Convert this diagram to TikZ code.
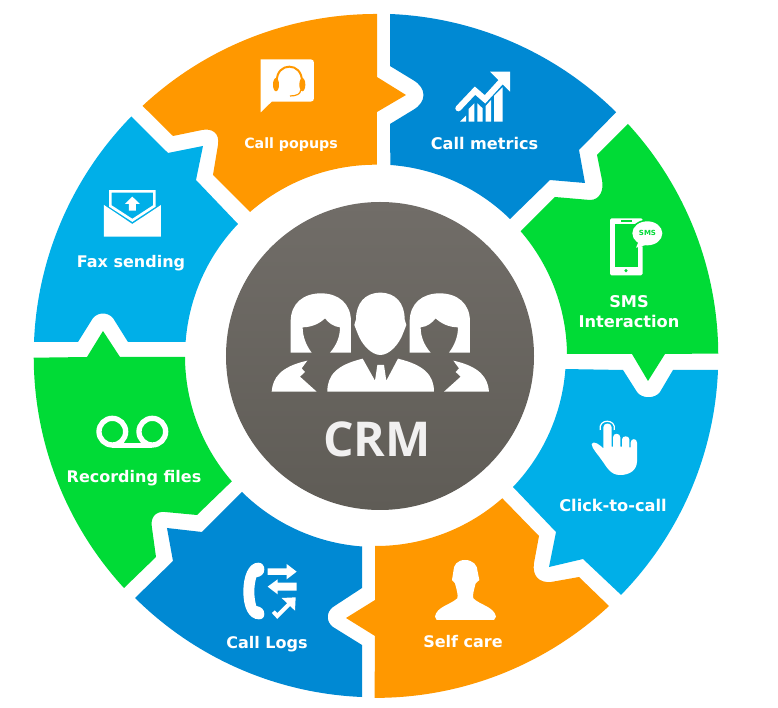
\documentclass[tikz,border=0pt]{standalone}
\usepackage{fontspec}
\setmainfont{DejaVu Sans}
\newfontfamily\crmfont{Open Sans}
\usetikzlibrary{calc}

\definecolor{segorange}{HTML}{FF9800}
\definecolor{segblue}{HTML}{0089D3}
\definecolor{segcyan}{HTML}{00AFE8}
\definecolor{seggreen}{HTML}{00DB36}
\definecolor{hubtop}{HTML}{716D68}
\definecolor{hubbottom}{HTML}{5F5C56}

\tikzset{
    px/.style 2 args={shift={(#1-376,356-#2)},x=0.33333pt,y=-0.33333pt},
    iconpart/.style={fill=white,draw=none},
    iconline/.style={draw=white,fill=none},
    seglabel/.style={text=white,align=center,inner sep=0pt,font=\bfseries\fontsize{#1}{20}\selectfont},
    womanpic/.pic={
        \fill[iconpart] (-269,458) -- (-269,365) .. controls (-269,310) and (-231,280) .. (-178,280)
            .. controls (-126,280) and (-88,310) .. (-88,365) -- (-88,458) -- (-151,458)
            .. controls (-131,435) and (-121,410) .. (-121,382) .. controls (-141,380) and (-156,368) .. (-166,355)
            .. controls (-181,370) and (-206,382) .. (-233,382) .. controls (-233,410) and (-223,435) .. (-206,458) -- cycle;
        \fill[iconpart] (-326,575) .. controls (-323,535) and (-301,500) .. (-219,482) -- (-236,505) -- (-226,516)
            -- (-241,530) -- (-191,575) -- cycle;
    }
}

\begin{document}
\begin{tikzpicture}[x=1pt,y=1pt]

    \def\outerR{342}
    \def\innerR{191}

    \useasboundingbox (-376,-352) rectangle (402,356);

    % Segmentos
    \fill[segorange] (1,342) arc[start angle=89.8,end angle=133,radius=\outerR pt]
        -- (-203,220) -- (-174,226) .. controls (-164,228) and (-156,223) .. (-158,211)
        -- (-163,181) -- (-126,144) arc[start angle=131.2,end angle=89.7,radius=\innerR pt]
        -- (1,244) -- (30,261) -- (1,279) -- cycle;
    \fill[segblue] (14,342) arc[start angle=87.66,end angle=45.4,radius=\outerR pt]
        -- (203,206) -- (209,173) -- (174,176)
        -- (134,137) arc[start angle=45.6,end angle=85.8,radius=\innerR pt]
        -- (14,232) -- (37,246) .. controls (51,254) and (51,268) .. (37,276) -- (14,290) -- cycle;
    \fill[seggreen] (252,232) arc[start angle=42.6,end angle=0.33,radius=\outerR pt]
        -- (289,2) -- (272,-25) -- (256,2)
        -- (191,2) arc[start angle=0.6,end angle=40.8,radius=\innerR pt]
        -- (179,159) -- (214,156) .. controls (224,156) and (228,166) .. (226,176) -- (221,201) -- cycle;
    \fill[segcyan] (342,-14) arc[start angle=-2.34,end angle=-44.3,radius=\outerR pt]
        -- (207,-203) -- (173,-211) -- (180,-176)
        -- (137,-131) arc[start angle=-43.7,end angle=-4.2,radius=\innerR pt]
        -- (247,-14) -- (261,-36) .. controls (266,-43) and (279,-43) .. (284,-36) -- (297,-14) -- cycle;
    \fill[segorange] (233,-250) arc[start angle=-47,end angle=-90.2,radius=\outerR pt]
        -- (-1,-280) -- (-30,-262) -- (-1,-244)
        -- (-1,-190) arc[start angle=-90.3,end angle=-48.6,radius=\innerR pt]
        -- (163,-180) -- (158,-207) .. controls (156,-220) and (163,-227) .. (175,-226) -- (203,-221) -- cycle;
    \fill[segblue] (-14,-341) arc[start angle=267.65,end angle=225.2,radius=\outerR pt]
        -- (-203,-205) -- (-209,-172) -- (-174,-176)
        -- (-134,-136) arc[start angle=225.4,end angle=265.8,radius=\innerR pt]
        -- (-14,-232) -- (-43,-251) .. controls (-50,-256) and (-50,-266) .. (-43,-271) -- (-14,-289) -- cycle;
    \fill[seggreen] (-252,-232) arc[start angle=222.6,end angle=180.2,radius=\outerR pt]
        -- (-289,-1) -- (-273,25) -- (-256,-1)
        -- (-191,-1) arc[start angle=180.3,end angle=221,radius=\innerR pt]
        -- (-179,-159) -- (-211,-156) .. controls (-221,-155) and (-226,-162) .. (-224,-172) -- (-220,-201) -- cycle;
    \fill[segcyan] (-342,14) arc[start angle=177.7,end angle=135.6,radius=\outerR pt]
        -- (-208,203) -- (-173,210) -- (-180,176)
        -- (-138,132) arc[start angle=136.3,end angle=175.8,radius=\innerR pt]
        -- (-248,14) -- (-263,38) .. controls (-268,44) and (-278,44) .. (-283,38) -- (-298,14) -- cycle;

    % Centro
    \shade[top color=hubtop,bottom color=hubbottom] (4,0) circle (154pt);
    \begin{scope}[px={220}{200}]
        \pic at (481,0) {womanpic};
        \pic[xscale=-1] at (481,0) {womanpic};
        \fill[iconpart] (481,278) .. controls (435,278) and (408,310) .. (408,358) -- (403,375) -- (412,398)
            .. controls (425,435) and (455,465) .. (481,465) .. controls (507,465) and (537,435) .. (550,398)
            -- (559,375) -- (554,358) .. controls (554,310) and (527,278) .. (481,278) -- cycle;
        \fill[iconpart] (322,575) .. controls (322,525) and (350,495) .. (428,476) -- (465,542) -- (472,495)
            -- (492,495) -- (499,542) -- (534,476) .. controls (612,495) and (642,525) .. (642,575) -- cycle;
    \end{scope}
    \node[text=white!90!hubtop,inner sep=0pt,font=\crmfont\bfseries\fontsize{48}{50}\selectfont] (crmlabel) at (1,-83.5) {CRM};

    % Call popups
    \begin{scope}[px={130}{10}]
        \fill[iconpart] (392,148) -- (542,148) .. controls (548,148) and (552,152) .. (552,158) -- (552,265)
            .. controls (552,271) and (548,275) .. (542,275) -- (425,275) -- (392,307) -- cycle;
        \draw[segorange,line width=2pt] (440,215) .. controls (440,185) and (458,170) .. (478,170)
            .. controls (498,170) and (516,185) .. (516,215);
        \fill[segorange] (438,224) ellipse [x radius=9,y radius=20];
        \fill[segorange] (517,224) ellipse [x radius=9,y radius=20];
        \draw[segorange,line width=1.2pt] (512,240) .. controls (512,252) and (500,258) .. (480,258);
    \end{scope}
    \node[seglabel=14.2] (popuplabel) at (-85,211.5) {Call popups};

    % Call metrics
    \begin{scope}[px={370}{10}]
        \draw[iconline,line width=6pt,line cap=round] (265,295) -- (315,242) -- (345,268) -- (395,213);
        \fill[iconpart] (360,185) -- (420,185) -- (420,245) -- cycle;
        \fill[iconpart] (270,335) -- (288,317) -- (288,335) -- cycle;
        \fill[iconpart] (296,335) -- (296,297) -- (313,280) -- (313,335) -- cycle;
        \fill[iconpart] (322,335) -- (322,280) -- (338,295) -- (338,335) -- cycle;
        \fill[iconpart] (347,335) -- (347,288) -- (363,270) -- (363,335) -- cycle;
        \fill[iconpart] (372,335) -- (372,258) -- (398,232) -- (398,335) -- cycle;
    \end{scope}
    \node[seglabel=16.1] (metricslabel) at (108.5,212) {Call metrics};

    % SMS Interaction
    \begin{scope}[px={370}{10}]
        \fill[iconpart,rounded corners=1.5pt] (720,625) rectangle (818,796);
        \fill[seggreen] (735,642) rectangle (805,770);
        \fill[seggreen] (752,631) rectangle (785,636);
        \fill[seggreen] (768,782) circle (5);
        \fill[seggreen] (832,670) ellipse [x radius=50,y radius=41];
        \fill[iconpart] (832,670) ellipse [x radius=45,y radius=36];
        \fill[iconpart] (798,713) -- (808,690) -- (835,703) -- cycle;
    \end{scope}
    \node[text=seggreen,inner sep=0pt,font=\bfseries\fontsize{7}{8}\selectfont] (smsbadge) at (271.5,123) {SMS};
    \node[seglabel=16.2] (smslabel) at (253,44) {SMS\\Interaction};

    % Click-to-call
    \begin{scope}[px={370}{350}]
        \draw[iconline,line width=1.2pt] (691,240) .. controls (683,205) and (740,205) .. (733,240);
        \fill[iconpart] (665,282) .. controls (670,270) and (690,285) .. (700,295) -- (700,232)
            .. controls (700,217) and (725,217) .. (725,232) -- (725,290) -- (729,290) -- (729,262)
            .. controls (729,248) and (751,248) .. (751,262) -- (751,290) -- (756,290) -- (756,268)
            .. controls (756,256) and (778,256) .. (778,268) -- (778,292) -- (782,292) -- (782,278)
            .. controls (782,264) and (801,264) .. (801,278) -- (801,335)
            .. controls (800,360) and (780,375) .. (750,375) .. controls (720,375) and (710,350) .. (695,330)
            .. controls (685,315) and (665,295) .. (665,282) -- cycle;
    \end{scope}
    \node[seglabel=16.2] (clicklabel) at (237,-149) {Click-to-call};

    % Self care
    \begin{scope}[px={370}{350}]
        \fill[iconpart] (285,630) .. controls (262,630) and (250,645) .. (250,665) -- (246,690) -- (255,700)
            .. controls (260,720) and (265,735) .. (262,745) .. controls (240,765) and (200,770) .. (195,800)
            -- (200,810) -- (372,810) -- (378,800) .. controls (372,770) and (330,765) .. (310,745)
            .. controls (307,735) and (312,720) .. (317,700) -- (328,690) -- (323,665)
            .. controls (323,645) and (308,630) .. (285,630) -- cycle;
    \end{scope}
    \node[seglabel=16] (selflabel) at (87,-286) {Self care};

    % Call Logs
    \begin{scope}[px={25}{350}]
        \fill[iconpart] (700,638) .. controls (712,638) and (718,648) .. (718,658) .. controls (718,672) and (708,680) .. (694,682)
            .. controls (686,710) and (686,740) .. (694,768) .. controls (708,770) and (718,778) .. (718,792)
            .. controls (718,802) and (712,808) .. (702,808) .. controls (670,808) and (655,770) .. (655,725)
            .. controls (655,680) and (670,638) .. (700,638) -- cycle;
        \fill[iconpart] (728,655) -- (785,655) -- (785,642) -- (815,665) -- (785,688) -- (785,675) -- (728,675) -- cycle;
        \fill[iconpart] (815,698) -- (758,698) -- (758,688) -- (728,710) -- (758,733) -- (758,722) -- (815,722) -- cycle;
        \draw[iconline,line width=4pt] (745,785) -- (757,798) -- (795,760);
        \fill[iconpart] (770,744) -- (812,742) -- (810,782) -- cycle;
    \end{scope}
    \node[seglabel=16] (logslabel) at (-109,-288) {Call Logs};

    % Recording files
    \begin{scope}[px={25}{350}]
        \draw[iconline,line width=5.3pt] (262,245) circle (40);
        \draw[iconline,line width=5.3pt] (382,245) circle (40);
        \draw[iconline,line width=5.3pt] (262,287) -- (382,287);
    \end{scope}
    \node[seglabel=16] (recordlabel) at (-242,-122.5) {Recording files};

    % Fax sending
    \begin{scope}[px={25}{110}]
        \fill[iconpart] (237,285) -- (322,342) -- (408,285) -- (408,380) -- (237,380) -- cycle;
        \draw[iconline,line width=2.6pt] (256,244) -- (388,244) -- (388,288) -- (322,331) -- (256,288) -- cycle;
        \fill[iconpart] (300,282) -- (322,260) -- (345,282) -- (333,282) -- (333,302) -- (312,302) -- (312,282) -- cycle;
    \end{scope}
    \node[seglabel=16] (faxlabel) at (-245,93) {Fax sending};

\end{tikzpicture}
\end{document}
